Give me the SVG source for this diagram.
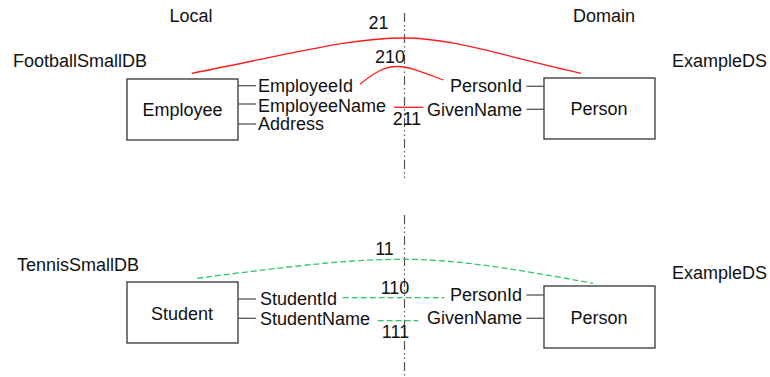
<svg xmlns="http://www.w3.org/2000/svg" width="770" height="377" viewBox="0 0 770 377">
<style>
text{font-family:"Liberation Sans",Arial,sans-serif;font-size:18px;fill:#111}
.box{fill:#fff;stroke:#333;stroke-width:1.3}
.stub{stroke:#555;stroke-width:1.3}
.axis{stroke:#555;stroke-width:1.2;stroke-dasharray:9 3 1.5 3 1.5 3;fill:none}
.red{stroke:#ff1a1a;stroke-width:1.3;fill:none}
.green{stroke:#33c46e;stroke-width:1.3;fill:none;stroke-dasharray:6 3}
.e{text-anchor:end}
.m{text-anchor:middle}
</style>
<rect width="770" height="377" fill="#fff"/>
<g id="axes">
<line class="axis" x1="404.5" y1="13" x2="404.5" y2="180"/>
<line class="axis" x1="404.5" y1="215" x2="404.5" y2="377"/>
</g>
<g id="headers">
<text x="191" y="22" class="m">Local</text>
<text x="604" y="22" class="m">Domain</text>
<text x="13" y="67">FootballSmallDB</text>
<text x="672" y="67">ExampleDS</text>
<text x="17" y="271">TennisSmallDB</text>
<text x="672" y="279">ExampleDS</text>
</g>
<g id="employee">
<rect class="box" x="127" y="79" width="111" height="61"/>
<text x="182.5" y="116" class="m">Employee</text>
<line class="stub" x1="238" y1="85.7" x2="256" y2="85.7"/>
<line class="stub" x1="238" y1="104" x2="256" y2="104"/>
<line class="stub" x1="238" y1="124" x2="256" y2="124"/>
<text x="258" y="91.7">EmployeeId</text>
<text x="258" y="111.7">EmployeeName</text>
<text x="258" y="130">Address</text>
</g>
<g id="person1">
<rect class="box" x="544" y="78" width="111" height="61"/>
<text x="599" y="115" class="m">Person</text>
<line class="stub" x1="526.5" y1="86.3" x2="544" y2="86.3"/>
<line class="stub" x1="526.5" y1="109.3" x2="544" y2="109.3"/>
<text x="522" y="92" class="e">PersonId</text>
<text x="522" y="115.5" class="e">GivenName</text>
</g>
<g id="student">
<rect class="box" x="127" y="282" width="111" height="61"/>
<text x="182" y="320" class="m">Student</text>
<line class="stub" x1="238" y1="299" x2="256" y2="299"/>
<line class="stub" x1="238" y1="318.3" x2="256" y2="318.3"/>
<text x="260" y="305">StudentId</text>
<text x="260" y="325">StudentName</text>
</g>
<g id="person2">
<rect class="box" x="544" y="286" width="111" height="62"/>
<text x="599" y="324" class="m">Person</text>
<line class="stub" x1="526.5" y1="295" x2="544" y2="295"/>
<line class="stub" x1="526.5" y1="318.3" x2="544" y2="318.3"/>
<text x="522" y="300.5" class="e">PersonId</text>
<text x="522" y="324.3" class="e">GivenName</text>
</g>
<g id="connectors">
<path class="red" d="M191.7,73.3 C300,52 350,38 404,38 C452,38 500,55 581,73.3"/>
<path class="red" d="M360,84.3 C375,72 385,66.5 397,66.5 C410,66.5 425,73 443.3,80"/>
<line class="red" x1="394" y1="107.3" x2="423.3" y2="107.3"/>
<path class="green" d="M197,278.3 C300,265 350,259.3 404,259.3 C455,259.3 510,268 593,283.3"/>
<line class="green" x1="342.7" y1="297.7" x2="444.3" y2="297.7"/>
<line class="green" x1="377.7" y1="320.7" x2="418.3" y2="320.7"/>
</g>
<g id="labels">
<text x="378.5" y="29.3" class="m">21</text>
<text x="390" y="63.3" class="m">210</text>
<text x="407" y="125" class="m">211</text>
<text x="384.5" y="255" class="m">11</text>
<text x="395" y="294.3" class="m">110</text>
<text x="395.5" y="337.7" class="m">111</text>
</g>
</svg>
